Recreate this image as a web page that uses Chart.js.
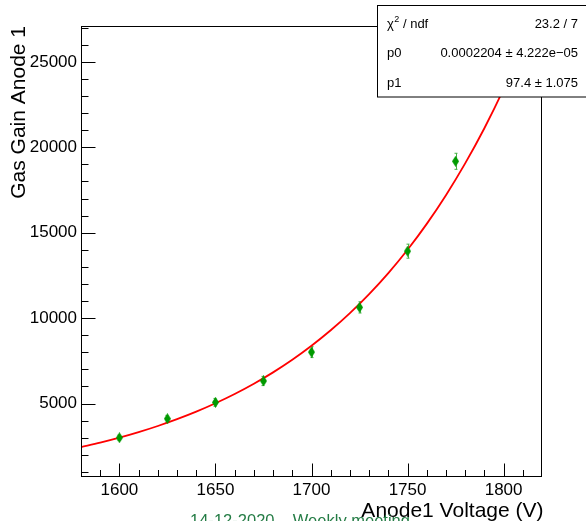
<!DOCTYPE html>
<html><head><meta charset="utf-8">
<script src="https://cdn.jsdelivr.net/npm/chart.js@4/dist/chart.umd.min.js"></script>
<style>html,body{margin:0;padding:0;background:#fff;overflow:hidden}</style>
</head><body>
<canvas id="c" width="586" height="521" style="width:586px;height:521px;display:block"></canvas>
<script>
// ---- data ----
const voltages   = [1600, 1625, 1650, 1675, 1700, 1725, 1750, 1775, 1800];
const gains      = [3000, 4110, 5070, 6320, 8010, 10630, 13920, 19180, 24300];
const gainErrors = [150, 200, 230, 270, 320, 330, 410, 470, 800];

// fitted curve samples (expo fit shown in stats box)
const fitVoltages = [1580,1590,1600,1610,1620,1630,1640,1650,1660,1670,1680,1690,1700,1710,1720,1730,1740,1750,1760,1770,1780,1790,1800,1810,1820];
const fitGains    = [2445,2709,3002,3327,3686,4085,4526,5016,5558,6159,6825,7563,8381,9287,10291,11404,12637,14004,15518,17196,19056,21116,23400,25930,28734];

const xTickLabels = [1600, 1650, 1700, 1750, 1800];
const xMinorTicks = [1590,1600,1610,1620,1630,1640,1650,1660,1670,1680,1690,1700,1710,1720,1730,1740,1750,1760,1770,1780,1790,1800,1810];
const yTickLabels = [5000, 10000, 15000, 20000, 25000];
const yMinorTicks = [1000,2000,3000,4000,5000,6000,7000,8000,9000,10000,11000,12000,13000,14000,15000,16000,17000,18000,19000,20000,21000,22000,23000,24000,25000,26000,27000];

const xTitle = "Anode1 Voltage (V)";
const yTitle = "Gas Gain Anode 1";
const footer = "14-12-2020 \u2013 Weekly meeting";
const statsRows = [["chi2", "23.2 / 7"], ["p0", "0.0002204 \u00b1 4.222e\u221205"], ["p1", "97.4 \u00b1 1.075"]];

const FONT = "'Liberation Sans', Arial, Helvetica, sans-serif";
const GREEN = '#009a00';

// thin diamond marker
const mk = document.createElement('canvas');
mk.width = 7; mk.height = 11;
(function(){
  const m = mk.getContext('2d');
  m.fillStyle = GREEN;
  m.beginPath();
  m.moveTo(3.5, 0); m.lineTo(7, 5.5); m.lineTo(3.5, 11); m.lineTo(0, 5.5);
  m.closePath(); m.fill();
})();

const errorBars = {
  id: 'errorBars',
  beforeDatasetsDraw(chart) {
    const {ctx, scales:{x, y}, chartArea:a} = chart;
    ctx.save();
    ctx.beginPath(); ctx.rect(a.left, a.top, a.right-a.left, a.bottom-a.top); ctx.clip();
    ctx.strokeStyle = '#44b044'; ctx.lineWidth = 1;
    voltages.forEach((v, i) => {
      const px = Math.round(x.getPixelForValue(v)) + 0.5;
      const y1 = y.getPixelForValue(gains[i] + gainErrors[i]);
      const y2 = y.getPixelForValue(gains[i] - gainErrors[i]);
      ctx.beginPath();
      ctx.moveTo(px, y1); ctx.lineTo(px, y2);
      ctx.moveTo(px - 2, y1); ctx.lineTo(px + 1, y1);
      ctx.moveTo(px - 2, y2); ctx.lineTo(px + 1, y2);
      ctx.stroke();
    });
    ctx.restore();
  }
};

const frameAndText = {
  id: 'frameAndText',
  afterDraw(chart) {
    const {ctx, scales:{x, y}, chartArea:a} = chart;
    ctx.save();
    // frame
    ctx.strokeStyle = '#000'; ctx.lineWidth = 1;
    const L = Math.round(a.left) + 0.5, R = Math.round(a.right) - 0.5;
    const T = Math.round(a.top) + 0.5, B = Math.round(a.bottom) - 0.5;
    ctx.strokeRect(L, T, R - L, B - T);
    // ticks
    ctx.beginPath();
    xMinorTicks.forEach(v => {
      const px = Math.round(x.getPixelForValue(v)) + 0.5;
      const len = xTickLabels.includes(v) ? 13 : 6.5;
      ctx.moveTo(px, B); ctx.lineTo(px, B - len);
    });
    yMinorTicks.forEach(v => {
      const py = Math.round(y.getPixelForValue(v)) + 0.5;
      const len = yTickLabels.includes(v) ? 14 : 7;
      ctx.moveTo(L, py); ctx.lineTo(L + len, py);
    });
    ctx.stroke();

    // axis titles
    ctx.fillStyle = '#000';
    ctx.font = '21px ' + FONT;
    ctx.textAlign = 'right'; ctx.textBaseline = 'alphabetic';
    ctx.fillText(xTitle, R + 2, 517);
    ctx.save();
    ctx.translate(25, T - 0.5);
    ctx.rotate(-Math.PI / 2);
    ctx.fillText(yTitle, 0, 0);
    ctx.restore();

    // footer
    ctx.fillStyle = '#247c45';
    ctx.font = '16.5px ' + FONT;
    ctx.textAlign = 'center';
    ctx.fillText(footer, 300, 526);

    // stats box
    const bx = 377.5, by = 5.5;
    ctx.fillStyle = '#fff';
    ctx.fillRect(bx, by, 600 - bx, 97 - by);
    ctx.strokeStyle = '#000'; ctx.lineWidth = 1;
    ctx.strokeRect(bx, by, 600 - bx, 97 - by);
    ctx.fillStyle = '#000';
    const baselines = [28, 57, 87];
    statsRows.forEach((r, i) => {
      const yb = baselines[i];
      ctx.font = '13px ' + FONT;
      ctx.textAlign = 'left';
      if (r[0] === 'chi2') {
        let cx = 387;
        ctx.fillText('\u03c7', cx, yb); cx += ctx.measureText('\u03c7').width;
        ctx.font = '9px ' + FONT;
        ctx.fillText('2', cx + 0.5, yb - 6); cx += ctx.measureText('2').width + 0.5;
        ctx.font = '13px ' + FONT;
        ctx.fillText(' / ndf', cx, yb);
      } else {
        ctx.fillText(r[0], 387, yb);
      }
      ctx.textAlign = 'right';
      ctx.fillText(r[1], 578, yb);
    });
    ctx.restore();
  }
};

new Chart(document.getElementById('c'), {
  type: 'scatter',
  data: {
    datasets: [
      {
        label: 'fit',
        data: fitVoltages.map((v, i) => ({x: v, y: fitGains[i]})),
        showLine: true, borderColor: '#ff0000', borderWidth: 1.8,
        pointRadius: 0, cubicInterpolationMode: 'monotone', fill: false, order: 2
      },
      {
        label: 'data',
        data: voltages.map((v, i) => ({x: v, y: gains[i]})),
        showLine: false, pointStyle: mk, pointRadius: 5, order: 1
      }
    ]
  },
  options: {
    responsive: false, animation: false, devicePixelRatio: 1,
    layout: {padding: {top: 26, right: 44, left: 0, bottom: 0}},
    plugins: {legend: {display: false}, tooltip: {enabled: false}},
    scales: {
      x: {
        type: 'linear', min: 1580, max: 1820,
        grid: {display: false, drawTicks: false}, border: {display: false},
        afterBuildTicks: s => { s.ticks = xTickLabels.map(v => ({value: v})); },
        afterFit: s => { s.height = 44; },
        ticks: {font: {family: FONT, size: 17}, color: '#000', padding: 3, maxRotation: 0, autoSkip: false, callback: v => String(v)}
      },
      y: {
        type: 'linear', min: 700, max: 27100,
        grid: {display: false, drawTicks: false}, border: {display: false},
        afterBuildTicks: s => { s.ticks = yTickLabels.map(v => ({value: v})); },
        afterFit: s => { s.width = 81; },
        ticks: {font: {family: FONT, size: 17}, color: '#000', padding: 4, autoSkip: false, callback: v => String(v)}
      }
    }
  },
  plugins: [errorBars, frameAndText]
});
</script>
</body></html>
